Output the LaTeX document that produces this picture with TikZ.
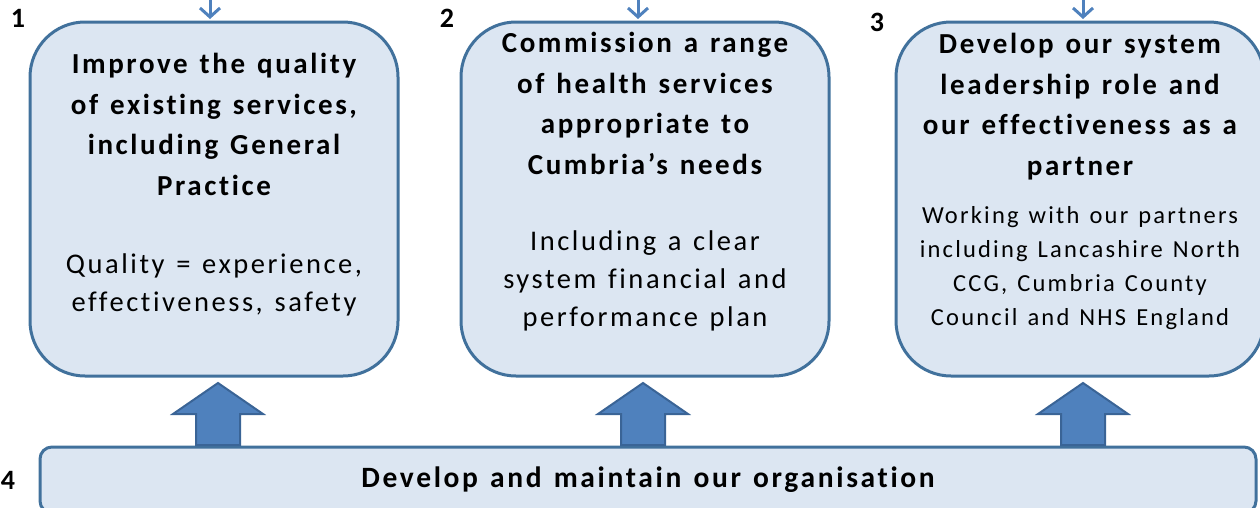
\documentclass[tikz,border=0pt]{standalone}
\usepackage{fontspec}
\setmainfont{Carlito}[LetterSpace=9,WordSpace=1.3,Ligatures=NoCommon]
\usetikzlibrary{positioning,arrows.meta}

\definecolor{panelfill}{HTML}{DCE6F2}
\definecolor{paneldraw}{HTML}{41719C}
\definecolor{arrowfill}{HTML}{4F81BD}
\definecolor{arrowdraw}{HTML}{3A6496}

\begin{document}
\begin{tikzpicture}[x=1pt,y=-1pt,
			>={Straight Barb[length=9pt,width=20pt]},
			panel/.style={
				draw=paneldraw,
				line width=3pt,
				fill=panelfill,
				rounded corners=55pt,
				minimum width=368pt,
				minimum height=354pt
			},
			basebar/.style={
				draw=paneldraw,
				line width=3pt,
				fill=panelfill,
				rounded corners=12pt,
				minimum width=1216pt,
				minimum height=66pt,
				font=\fontsize{29.5}{40}\selectfont\bfseries
			},
			title/.style={align=center,font=\fontsize{29}{40.5}\selectfont\bfseries},
			note/.style={align=center,font=\fontsize{28.5}{38}\selectfont},
			smallnote/.style={align=center,font=\fontsize{24.5}{34}\selectfont},
			num/.style={font=\fontsize{28}{28}\selectfont\bfseries},
			feed/.style={->,draw=arrowfill,line width=3pt,shorten >=1.5pt},
			lift/.style={fill=arrowfill,draw=arrowdraw,line width=2pt}]
			
			\path[use as bounding box,clip] (0,0) rectangle (1260,507);
			
			\node[panel] (box1) at (214,199) {};
			
			\node[panel,right=60pt of box1] (box2) {};
			
			\node[panel,right=64pt of box2] (box3) {};
			
			\node[basebar] (base) at (648,480) {Develop and maintain our organisation};
			
			% texts of the three panels
			\node[title] (title1) at ([yshift=-104pt]box1.north) {Improve the quality\\of existing services,\\including General\\Practice};
			
			\node[note] (note1) at ([yshift=-264pt]box1.north) {Quality = experience,\\effectiveness, safety};
			
			\node[title] (title2) at ([yshift=-83pt]box2.north) {Commission a range\\of health services\\appropriate to\\Cumbria’s needs};
			
			\node[note] (note2) at ([yshift=-260pt]box2.north) {Including a clear\\system financial and\\performance plan};
			
			\node[title] (title3) at ([yshift=-86pt]box3.north) {Develop our system\\leadership role and\\our effectiveness as a\\partner};
			
			\node[smallnote] (note3) at ([yshift=-248pt]box3.north) {Working with our partners\\including Lancashire North\\CCG, Cumbria County\\Council and NHS England};
			
			\node[num] (n1) at (18,18) {1};
			
			\node[num] (n2) at (447,18) {2};
			
			\node[num] (n3) at (877,22) {3};
			
			\node[num] (n4) at (8,480) {4};
			
			% incoming arrows
			\coordinate (in1) at (210,-4);
			\coordinate (in2) at (638,-4);
			\coordinate (in3) at (1083,-4);
			
			\draw[feed](in1)--(in1 |- box1.north);
			
			\draw[feed](in2)--(in2 |- box2.north);
			
			\draw[feed](in3)--(in3 |- box3.north);
			
			% block arrows up from the base
			\foreach \x in {218,643,1083}
				\draw[lift] (\x-22,445) -- (\x-22,414) -- (\x-45,414) -- (\x,383) -- (\x+45,414) -- (\x+22,414) -- (\x+22,445) -- cycle;
			
		\end{tikzpicture}
\end{document}
